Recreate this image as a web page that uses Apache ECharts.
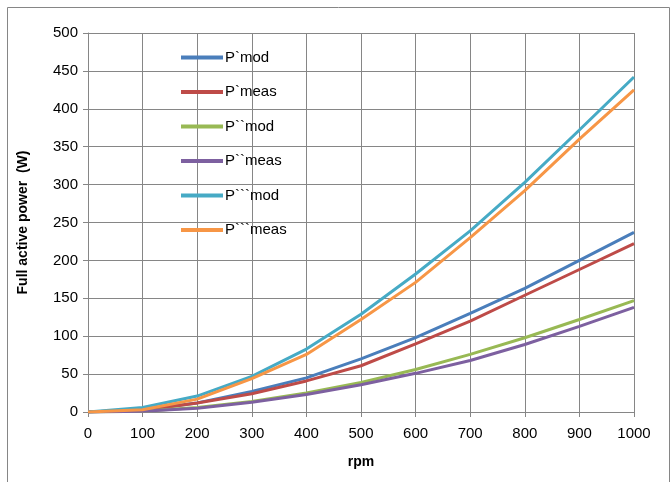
<!DOCTYPE html>
<html>
<head>
<meta charset="utf-8">
<script src="https://cdn.jsdelivr.net/npm/echarts@6/dist/echarts.min.js"></script>
<style>
  html, body { margin: 0; padding: 0; background: #fff; }
  #chart { width: 672px; height: 482px; }
</style>
</head>
<body>
<div id="chart"></div>
<script>
// rpm values on the x axis
const rpm = [0, 100, 200, 300, 400, 500, 600, 700, 800, 900, 1000]

// full active power (W)
const p1Mod = [0, 3, 12, 27, 45, 70, 98, 130, 163, 200, 237]
const p1Meas = [0, 2, 12, 24, 41, 61, 90, 120, 154, 188, 222]
const p2Mod = [0, 1, 6, 14, 25, 39, 56, 76, 98, 122, 147]
const p2Meas = [0, 1, 5, 13, 23, 36, 51, 68, 89, 113, 138]
const p3Mod = [0, 6, 21, 47, 83, 129, 182, 239, 303, 372, 442]
const p3Meas = [0, 3, 17, 44, 76, 122, 171, 230, 292, 360, 425]

const names = ['P`mod', 'P`meas', 'P``mod', 'P``meas', 'P```mod', 'P```meas']
const colors = ['#4a7ebb', '#be4b48', '#98b954', '#7d60a0', '#46aac5', '#f79646']
const seriesData = [p1Mod, p1Meas, p2Mod, p2Meas, p3Mod, p3Meas]

const font = 'Liberation Sans'

const chart = echarts.init(document.getElementById('chart'))

const option = {
  animation: false,
  backgroundColor: '#fff',
  graphic: [
    {
      type: 'rect',
      shape: { x: 7.5, y: 7.5, width: 662, height: 490 },
      style: { fill: 'none', stroke: '#868686', lineWidth: 1 },
      silent: true,
    },
  ],
  grid: { left: 88, right: 38, top: 33, bottom: 70 },
  legend: {
    orient: 'vertical',
    left: 176,
    top: 45,
    itemWidth: 42,
    itemHeight: 4,
    itemGap: 19.5,
    icon: 'rect',
    data: names,
    textStyle: { fontFamily: font, fontSize: 15, color: '#000', padding: [0, 0, 0, -3] },
  },
  xAxis: {
    type: 'value',
    min: 0,
    max: 1000,
    interval: 100,
    name: 'rpm',
    nameLocation: 'middle',
    nameGap: 43,
    nameTextStyle: { fontFamily: font, fontSize: 14, fontWeight: 'bold', color: '#000' },
    axisLine: { lineStyle: { color: '#868686' } },
    axisTick: { show: true, length: 5, lineStyle: { color: '#868686' } },
    axisLabel: { fontFamily: font, fontSize: 15, color: '#000', margin: 14, formatter: (v) => String(v) },
    splitLine: { show: true, lineStyle: { color: '#868686', width: 1 } },
  },
  yAxis: {
    type: 'value',
    min: 0,
    max: 500,
    interval: 50,
    name: 'Full active power  (W)',
    nameLocation: 'middle',
    nameGap: 58,
    nameTextStyle: { fontFamily: font, fontSize: 14, fontWeight: 'bold', color: '#000' },
    axisLine: { show: true, lineStyle: { color: '#868686' } },
    axisTick: { show: true, length: 5, lineStyle: { color: '#868686' } },
    axisLabel: { fontFamily: font, fontSize: 15, color: '#000', margin: 10 },
    splitLine: { show: true, lineStyle: { color: '#868686', width: 1 } },
  },
  series: names.map((name, i) => ({
    name: name,
    type: 'line',
    data: rpm.map((x, j) => [x, seriesData[i][j]]),
    showSymbol: false,
    symbol: 'none',
    lineStyle: { width: 3, color: colors[i] },
    itemStyle: { color: colors[i] },
  })),
}

chart.setOption(option)
</script>
</body>
</html>
